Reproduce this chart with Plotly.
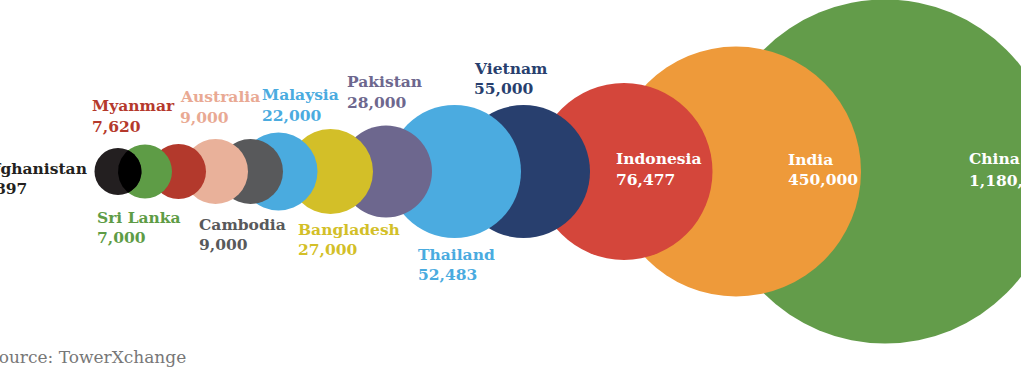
import numpy as np
import plotly.graph_objects as go

# ---- data ----
countries = ["Afghanistan", "Sri Lanka", "Myanmar", "Australia", "Cambodia", "Malaysia",
             "Bangladesh", "Pakistan", "Thailand", "Vietnam", "Indonesia", "India", "China"]
towers = [897, 7000, 7620, 9000, 9000, 22000, 27000, 28000, 52483, 55000, 76477, 450000, 1180000]
value_labels = ["897", "7,000", "7,620", "9,000", "9,000", "22,000", "27,000", "28,000",
                "52,483", "55,000", "76,477", "450,000", "1,180,000"]
source_text = "Source: TowerXchange"

# ---- layout / style (pixel-space design of the infographic) ----
W, H = 1021, 376
center_y = 171.5
bubble_center_x = [118, 145, 178.5, 215.5, 250.5, 278.5, 330.5, 386, 454.5, 523.5, 624, 736, 885]
bubble_radius = [23.5, 27, 27.5, 32.5, 32.5, 39, 42.5, 46, 66.5, 66.5, 88.5, 125, 172]
# drawing order (bottom -> top)
draw_order = [12, 11, 10, 9, 8, 7, 6, 5, 4, 3, 2, 1, 0]
fill_colors = ["#231f20", "#5e9c46", "#b3392c", "#e9b19a", "#58595b", "#4aabdf",
               "#d3bf28", "#6d678e", "#4babe0", "#283f6e", "#d4463b", "#ee9a3a", "#639c4a"]
label_colors = ["#231f20", "#5e9c46", "#b5392c", "#e9a993", "#58595b", "#4aabdf",
                "#d3bf28", "#6d678e", "#4aabdf", "#283f6e", "#ffffff", "#ffffff", "#ffffff"]
# label anchors: name (x, baseline, xanchor), value (x, baseline, xanchor)
name_pos = [(89, 176, "right"), (95, 225, "left"), (90, 113, "left"),
            (178, 104, "left"), (197, 232, "left"), (260, 102, "left"),
            (296, 237, "left"), (345, 89, "left"), (416, 262, "left"),
            (472, 76, "left"), (614, 166, "left"), (786, 167, "left"),
            (967, 166, "left")]
value_pos = [(29, 196, "right"), (95, 245, "left"), (90, 134, "left"),
             (178, 125, "left"), (197, 252, "left"), (260, 123, "left"),
             (296, 257, "left"), (345, 110, "left"), (416, 282, "left"),
             (472, 96, "left"), (614, 187, "left"), (786, 187, "left"),
             (967, 188, "left")]
FONT = "DejaVu Serif"
FS = 15.5
CAP_MID = 7.2  # baseline -> middle of the text line

fig = go.Figure()

for i in draw_order:
    fig.add_trace(go.Scatter(
        x=[bubble_center_x[i]], y=[center_y], mode="markers",
        marker=dict(size=2 * bubble_radius[i], color=fill_colors[i], line=dict(width=0)),
        hoverinfo="text", text=[f"{countries[i]}: {value_labels[i]}"], showlegend=False))

# multiply-like overlap of Afghanistan and Sri Lanka (lens region, computed)
x0, r0 = bubble_center_x[0], bubble_radius[0]
x1, r1 = bubble_center_x[1], bubble_radius[1]
d = x1 - x0
a = (d * d + r0 * r0 - r1 * r1) / (2 * d)
h = np.sqrt(max(r0 * r0 - a * a, 0))
t0 = np.arctan2(h, a)
ang0 = np.linspace(-t0, t0, 60)
px0 = x0 + r0 * np.cos(ang0)
py0 = center_y + r0 * np.sin(ang0)
t1 = np.arctan2(h, -(d - a))
ang1 = np.linspace(t1, 2 * np.pi - t1, 60)
px1 = x1 + r1 * np.cos(ang1)
py1 = center_y + r1 * np.sin(ang1)
fig.add_trace(go.Scatter(x=np.concatenate([px0, px1]), y=np.concatenate([py0, py1]),
                         mode="lines", fill="toself", fillcolor="#000000",
                         line=dict(width=0), hoverinfo="skip", showlegend=False))

for i in range(len(countries)):
    for txt, (lx, bl, xa) in ((countries[i], name_pos[i]), (value_labels[i], value_pos[i])):
        fig.add_annotation(
            x=lx, y=bl - CAP_MID, xref="x", yref="y", xanchor=xa, yanchor="middle",
            showarrow=False, text=f"<b>{txt}</b>",
            font=dict(family=FONT, size=FS, color=label_colors[i]))

fig.add_annotation(x=188, y=357, xref="x", yref="y", xanchor="right", yanchor="middle",
                   showarrow=False, text=source_text,
                   font=dict(family=FONT, size=17, color="#777777"))

fig.update_layout(
    width=W, height=H, margin=dict(l=0, r=0, t=0, b=0),
    paper_bgcolor="white", plot_bgcolor="white",
    xaxis=dict(range=[0, W], visible=False, fixedrange=True),
    yaxis=dict(range=[H, 0], visible=False, fixedrange=True),
)

fig.write_html("out.html")
